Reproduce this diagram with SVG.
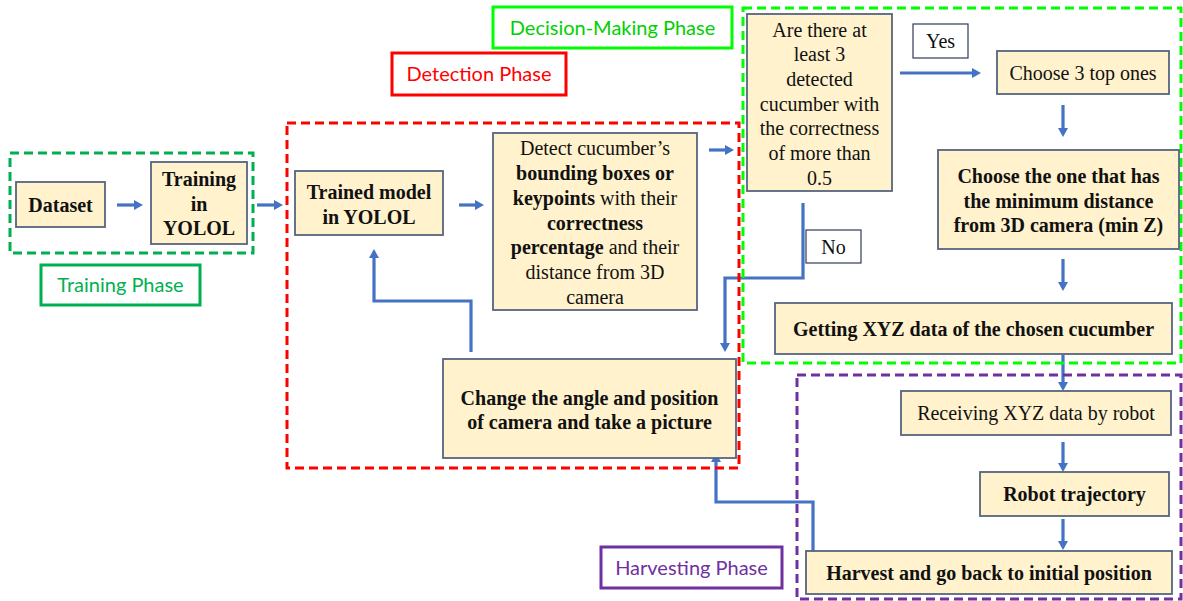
<svg xmlns="http://www.w3.org/2000/svg" width="1183" height="601" viewBox="0 0 1183 601">
  <defs>
    <marker id="ah" viewBox="0 0 9 10" markerWidth="9" markerHeight="10" refX="1" refY="5" orient="auto" markerUnits="userSpaceOnUse">
      <path d="M0,0 L9,5 L0,10 z" fill="#4472C4"/>
    </marker>
    <style>
      .box { fill: #FFF2CC; stroke: #56647F; stroke-width: 1.8; }
      .tag { fill: #FFFFFF; stroke: #2F3B58; stroke-width: 1.2; }
      .t { font-family: "Liberation Serif", "Times New Roman", serif; font-size: 20px; fill: #111; text-anchor: middle; }
      .b { font-weight: bold; }
      .phase { font-family: Lato, "Liberation Sans", sans-serif; font-size: 20px; text-anchor: middle; }
      .dash { fill: none; stroke-width: 3; stroke-dasharray: 9 5; }
      .conn { fill: none; stroke: #4472C4; stroke-width: 3.2; marker-end: url(#ah); }
    </style>
  </defs>

  <rect width="1183" height="601" fill="#FFFFFF"/>

  <!-- connectors -->
  <g id="connectors">
    <line class="conn" x1="117" y1="205" x2="135" y2="205"/>
    <line class="conn" x1="257" y1="205" x2="275" y2="205"/>
    <line class="conn" x1="459" y1="205" x2="476" y2="205"/>
    <line class="conn" x1="709" y1="150" x2="726" y2="150"/>
    <line class="conn" x1="900" y1="73" x2="973" y2="73"/>
    <line class="conn" x1="1063" y1="105" x2="1063" y2="129"/>
    <line class="conn" x1="1063" y1="259" x2="1063" y2="283"/>
    <path class="conn" d="M803,203 V278 H725 V344"/>
    <path class="conn" d="M471,352 V301 H374 V257"/>
    <line class="conn" x1="1063" y1="355" x2="1063" y2="383"/>
    <line class="conn" x1="1063" y1="442" x2="1063" y2="464"/>
    <line class="conn" x1="1063" y1="519" x2="1063" y2="542"/>
    <path class="conn" d="M813,551 V502 H716 V461"/>
  </g>

  <!-- phase frames -->
  <g id="frames">
    <rect class="dash" x="10" y="153" width="243" height="100" stroke="#00B050"/>
    <rect class="dash" x="287" y="123" width="452" height="345" stroke="#FF0000"/>
    <rect class="dash" x="743" y="8" width="438" height="355" stroke="#00FF00"/>
    <rect class="dash" x="797" y="375" width="384" height="224" stroke="#7030A0"/>
  </g>

  <!-- phase labels -->
  <g id="label-training">
    <rect x="41" y="265" width="159" height="40" fill="#FFFFFF" stroke="#00B050" stroke-width="3"/>
    <text class="phase" x="120.5" y="292" fill="#00B050">Training Phase</text>
  </g>
  <g id="label-detection">
    <rect x="392" y="53" width="174" height="42" fill="#FFFFFF" stroke="#FF0000" stroke-width="3"/>
    <text class="phase" x="479" y="81" fill="#FF0000">Detection Phase</text>
  </g>
  <g id="label-decision">
    <rect x="493" y="7" width="239" height="41" fill="#FFFFFF" stroke="#00FF00" stroke-width="3"/>
    <text class="phase" x="612.5" y="35" fill="#00D000">Decision-Making Phase</text>
  </g>
  <g id="label-harvesting">
    <rect x="601" y="547" width="181" height="41" fill="#FFFFFF" stroke="#7030A0" stroke-width="3"/>
    <text class="phase" x="691.5" y="575" fill="#7030A0">Harvesting Phase</text>
  </g>

  <!-- training phase -->
  <g id="dataset">
    <rect class="box" x="16" y="182" width="89" height="45"/>
    <text class="t b" x="60.5" y="212">Dataset</text>
  </g>
  <g id="training">
    <rect class="box" x="151" y="162" width="96" height="82"/>
    <text class="t b" x="199" y="186" font-size="19">Training</text>
    <text class="t b" x="199" y="211" font-size="19">in</text>
    <text class="t b" x="199" y="235" font-size="19">YOLOL</text>
  </g>

  <!-- detection phase -->
  <g id="trained-model">
    <rect class="box" x="295" y="171" width="148" height="64"/>
    <text class="t b" x="369" y="199">Trained model</text>
    <text class="t b" x="369" y="224">in YOLOL</text>
  </g>
  <g id="detect">
    <rect class="box" x="493" y="133" width="204" height="177"/>
    <text class="t" x="595" y="155">Detect cucumber’s</text>
    <text class="t b" x="595" y="180">bounding boxes or</text>
    <text class="t" x="595" y="205"><tspan font-weight="bold">keypoints</tspan> with their</text>
    <text class="t b" x="595" y="230">correctness</text>
    <text class="t" x="595" y="254"><tspan font-weight="bold">percentage</tspan> and their</text>
    <text class="t" x="595" y="279">distance from 3D</text>
    <text class="t" x="595" y="304">camera</text>
  </g>
  <g id="change-view">
    <rect class="box" x="443" y="359" width="293" height="99"/>
    <text class="t b" x="589.5" y="405">Change the angle and position</text>
    <text class="t b" x="589.5" y="429">of camera and take a picture</text>
  </g>

  <!-- decision-making phase -->
  <g id="decision">
    <rect class="box" x="747" y="14" width="145" height="177"/>
    <text class="t" x="819.5" y="37">Are there at</text>
    <text class="t" x="819.5" y="61">least 3</text>
    <text class="t" x="819.5" y="86">detected</text>
    <text class="t" x="819.5" y="111">cucumber with</text>
    <text class="t" x="819.5" y="135">the correctness</text>
    <text class="t" x="819.5" y="160">of more than</text>
    <text class="t" x="819.5" y="185">0.5</text>
  </g>
  <g id="yes-tag">
    <rect class="tag" x="913" y="24" width="55" height="34"/>
    <text class="t" x="940.5" y="48">Yes</text>
  </g>
  <g id="no-tag">
    <rect class="tag" x="806" y="230" width="55" height="33"/>
    <text class="t" x="833.5" y="254">No</text>
  </g>
  <g id="choose-top">
    <rect class="box" x="997" y="51" width="172" height="43"/>
    <text class="t" x="1083" y="80">Choose 3 top ones</text>
  </g>
  <g id="choose-min">
    <rect class="box" x="938" y="150" width="241" height="99"/>
    <text class="t b" x="1058.5" y="183">Choose the one that has</text>
    <text class="t b" x="1058.5" y="208">the minimum distance</text>
    <text class="t b" x="1058.5" y="232">from 3D camera (min Z)</text>
  </g>
  <g id="get-xyz">
    <rect class="box" x="775" y="303" width="397" height="51"/>
    <text class="t b" x="973.5" y="336">Getting XYZ data of the chosen cucumber</text>
  </g>

  <!-- harvesting phase -->
  <g id="receive-xyz">
    <rect class="box" x="901" y="391" width="270" height="44"/>
    <text class="t" x="1036" y="420">Receiving  XYZ data by robot</text>
  </g>
  <g id="trajectory">
    <rect class="box" x="980" y="472" width="189" height="44"/>
    <text class="t b" x="1074.5" y="501">Robot trajectory</text>
  </g>
  <g id="harvest">
    <rect class="box" x="806" y="551" width="366" height="43"/>
    <text class="t b" x="989" y="580">Harvest and go back to initial position</text>
  </g>
</svg>
